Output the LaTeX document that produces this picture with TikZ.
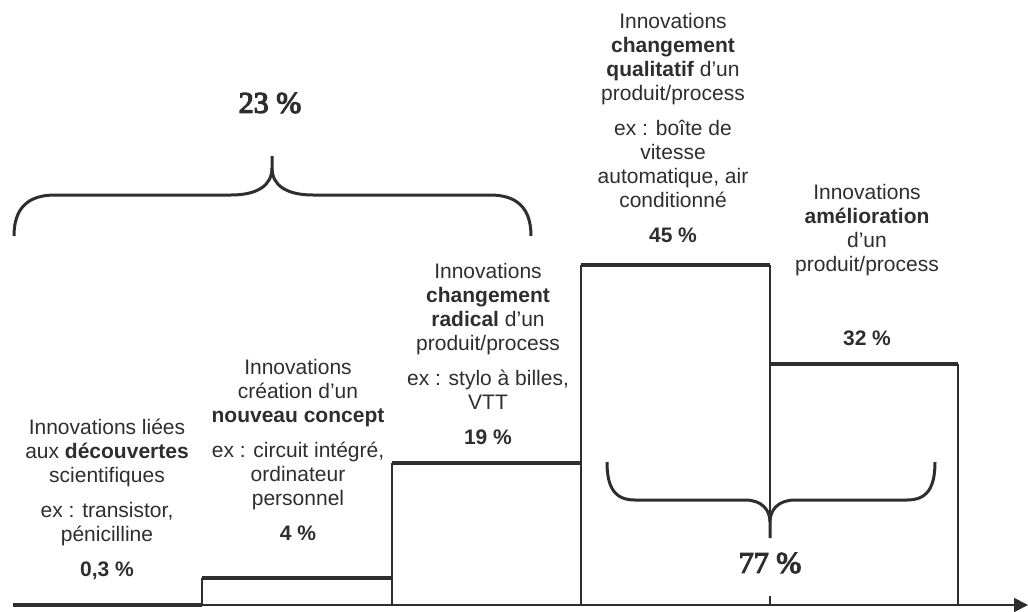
\documentclass[tikz,border=0pt]{standalone}
\usepackage{fontspec}
\setmainfont{Liberation Sans}
\newfontfamily\serifbold[AutoFakeBold=4]{Liberation Serif}
\usetikzlibrary{arrows.meta}
\definecolor{ink}{HTML}{2E2E2E}
\tikzset{
  thinline/.style={draw=ink, line width=1.8pt},
  thickline/.style={draw=ink, line width=3.5pt},
  bracepath/.style={draw=ink, line width=3pt},
  txt/.style={text=ink, align=center, inner sep=0pt, anchor=north,
    font=\fontsize{21}{24}\selectfont},
  pct/.style={text=ink, inner sep=0pt, font=\fontsize{21}{24}\selectfont\bfseries},
  bigpct/.style={text=ink, inner sep=0pt, font=\serifbold\bfseries\fontsize{30}{34}\selectfont}
}
\begin{document}
\begin{tikzpicture}[x=1pt,y=-1pt]
\useasboundingbox (0,0) rectangle (1028,611);
% coordinates
\coordinate (a0) at (13,605);
\coordinate (a1) at (202,605);
\coordinate (a2) at (392,605);
\coordinate (a3) at (581,605);
\coordinate (a4) at (770,605);
\coordinate (a5) at (958,605);
\coordinate (aend) at (1028,605);
% axis
\draw[thinline, -{Triangle[length=14pt,width=14pt]}] (a0) -- (aend);
% bar 1 (on axis)
\draw[thickline] (a0) -- (a1);
% bar 2
\draw[thinline] (a1) -- (202,578);
\draw[thinline] (a2) -- (392,463);
\draw[thickline] (202,578) -- (392,578);
% bar 3
\draw[thickline] (392,463) -- (581,463);
\draw[thinline] (a3) -- (581,265);
% bar 4
\draw[thickline] (581,265) -- (770,265);
\draw[thinline] (770,265) -- (770,538);
\draw[thinline] (770,596) -- (a4);
% bar 5
\draw[thickline] (770,364) -- (958,364);
\draw[thinline] (958,364) -- (a5);
% brace 23 %
\draw[bracepath] (14,236) .. controls (14,208) and (28,195) .. (55,195)
  -- (231,195) .. controls (258,195) and (272,185) .. (272,168) -- (272,156);
\draw[bracepath] (531,236) .. controls (531,208) and (517,195) .. (490,195)
  -- (313,195) .. controls (286,195) and (272,185) .. (272,168);
% brace 77 %
\draw[bracepath] (607,462) .. controls (607,488) and (615,500) .. (635,500)
  -- (745,500) .. controls (762,500) and (770,510) .. (770,522) -- (770,538);
\draw[bracepath] (935,462) .. controls (935,488) and (927,500) .. (907,500)
  -- (795,500) .. controls (778,500) and (770,510) .. (770,522);
% texts
\node[bigpct] (p23) at (270,103) {23 \%};
\node[bigpct] (p77) at (770,563) {77 \%};
\node[txt] (t1) at (107,419) {Innovations liées\\aux \textbf{découvertes}\\scientifiques\\[11pt]ex : transistor,\\pénicilline\\[11pt]\textbf{0,3 \%}};
\node[txt] (t2) at (298,359) {Innovations\\création d’un\\\textbf{nouveau concept}\\[11pt]ex : circuit intégré,\\ordinateur\\personnel\\[11pt]\textbf{4 \%}};
\node[txt] (t3) at (488,263) {Innovations\\\textbf{changement}\\\textbf{radical} d’un\\produit/process\\[11pt]ex : stylo à billes,\\VTT\\[11pt]\textbf{19 \%}};
\node[txt] (t4) at (673,13) {Innovations\\\textbf{changement}\\\textbf{qualitatif} d’un\\produit/process\\[11pt]ex : boîte de\\vitesse\\automatique, air\\conditionné\\[11pt]\textbf{45 \%}};
\node[txt] (t5) at (867,184) {Innovations\\\textbf{amélioration}\\d’un\\produit/process};
\node[pct] (p32) at (867,338) {32 \%};
\end{tikzpicture}
\end{document}
